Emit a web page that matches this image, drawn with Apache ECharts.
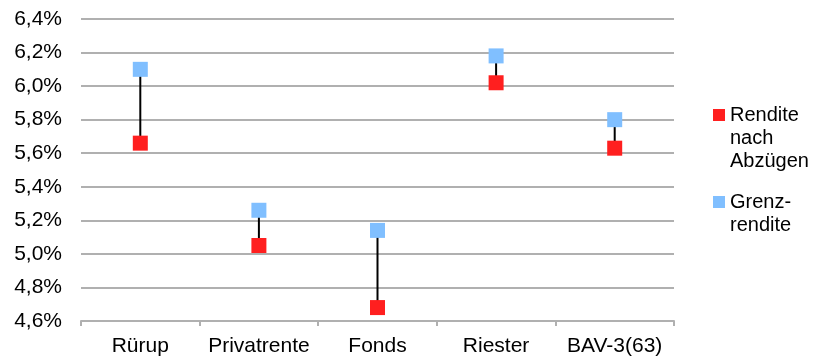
<!DOCTYPE html>
<html>
<head>
<meta charset="utf-8">
<script src="https://cdn.jsdelivr.net/npm/echarts@6/dist/echarts.min.js"></script>
<style>
  html, body { margin: 0; padding: 0; background: #fff; }
  #chart { width: 814px; height: 358px; }
</style>
</head>
<body>
<div id="chart"></div>
<script>
// Werte in Prozent
const categories = ["Rürup", "Privatrente", "Fonds", "Riester", "BAV-3(63)"];
const renditeNachAbzuegen = [5.66, 5.05, 4.68, 6.02, 5.63];
const grenzrendite = [6.10, 5.26, 5.14, 6.18, 5.80];
const yMin = 4.6;
const yMax = 6.4;
const yStep = 0.2;

const font = "Liberation Sans, Arial, sans-serif";
const gridColor = "#b0b0b0";

// Linie zwischen beiden Punkten je Kategorie
const rangeData = categories.map(function(c, i) {
  return [i, renditeNachAbzuegen[i], grenzrendite[i]];
});

// Leerzeilen oben, damit die erste Zeile auf Hoehe des Symbols steht
const legendText = {
  "Rendite nach Abzügen": "\n\nRendite\nnach\nAbzügen",
  "Grenzrendite": "\nGrenz-\nrendite"
};

const legendBase = {
  left: 713,
  padding: 0,
  orient: "vertical",
  itemWidth: 12,
  itemHeight: 12,
  formatter: function(name) {
    return legendText[name];
  },
  textStyle: {
    fontFamily: font,
    fontSize: 20,
    lineHeight: 23,
    color: "#000"
  }
};

const options = {
  animation: false,
  grid: {
    left: 81,
    right: 140,
    top: 19,
    bottom: 37
  },
  legend: [
    Object.assign({}, legendBase, {
      top: 57.5,
      data: [{ name: "Rendite nach Abzügen", icon: "rect" }]
    }),
    Object.assign({}, legendBase, {
      top: 167.5,
      data: [{ name: "Grenzrendite", icon: "rect" }]
    })
  ],
  xAxis: {
    type: "category",
    data: categories,
    boundaryGap: true,
    axisLine: { show: true, lineStyle: { color: gridColor, width: 2 } },
    axisTick: { show: true, interval: 0, length: 5, lineStyle: { color: gridColor, width: 2 } },
    axisLabel: {
      interval: 0,
      margin: 15,
      color: "#000",
      fontFamily: font,
      fontSize: 21
    }
  },
  yAxis: {
    type: "value",
    min: yMin,
    max: yMax,
    interval: yStep,
    axisLine: { show: false },
    axisTick: { show: false },
    splitLine: { show: true, lineStyle: { color: gridColor, width: 2 } },
    axisLabel: {
      margin: 19,
      color: "#000",
      fontFamily: font,
      fontSize: 21,
      formatter: function(v) {
        return v.toFixed(1).replace(".", ",") + "%";
      }
    }
  },
  series: [
    {
      type: "custom",
      data: rangeData,
      encode: { x: 0, y: [1, 2] },
      z: 1,
      renderItem: function(params, api) {
        const p1 = api.coord([api.value(0), api.value(1)]);
        const p2 = api.coord([api.value(0), api.value(2)]);
        return {
          type: "line",
          shape: { x1: p1[0], y1: p1[1], x2: p2[0], y2: p2[1] },
          style: { stroke: "#000", lineWidth: 2 }
        };
      }
    },
    {
      name: "Rendite nach Abzügen",
      type: "scatter",
      symbol: "rect",
      symbolSize: 15,
      z: 3,
      itemStyle: { color: "#ff1f1f", opacity: 1 },
      data: renditeNachAbzuegen
    },
    {
      name: "Grenzrendite",
      type: "scatter",
      symbol: "rect",
      symbolSize: 15,
      z: 3,
      itemStyle: { color: "#80bfff", opacity: 1 },
      data: grenzrendite
    }
  ]
};

const chart = echarts.init(document.getElementById("chart"));
chart.setOption(options);
</script>
</body>
</html>
